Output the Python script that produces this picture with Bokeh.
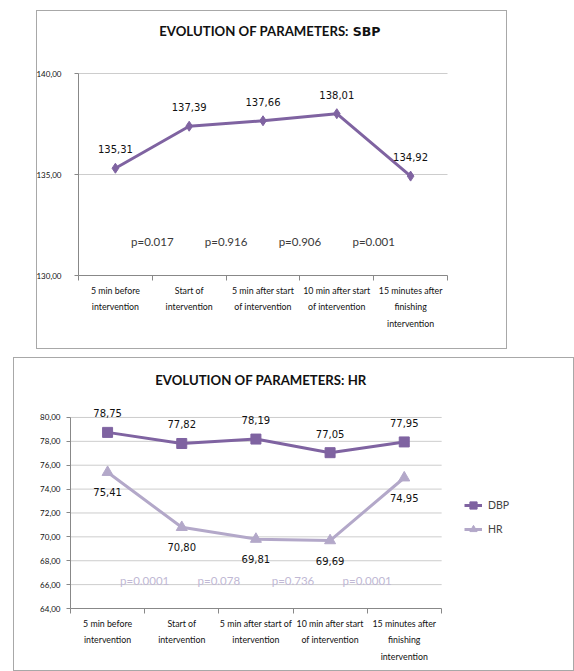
from bokeh.plotting import figure
from bokeh.models import FixedTicker, Legend, LegendItem, Range1d, CustomJSTickFormatter
from bokeh.layouts import column
from bokeh.embed import file_html
from bokeh.resources import INLINE
from bokeh.core.properties import value

# ---------------- data ----------------
categories_sbp = ["5 min before\nintervention", "Start of\nintervention",
                  "5 min after start\nof intervention", "10 min after start\nof intervention",
                  "15 minutes after\nfinishing\nintervention"]
categories_hr = ["5 min before\nintervention", "Start of\nintervention",
                 "5 min after start of\nintervention", "10 min after start\nof intervention",
                 "15 minutes after\nfinishing\nintervention"]
sbp = [135.31, 137.39, 137.66, 138.01, 134.92]
sbp_p = ["p=0.017", "p=0.916", "p=0.906", "p=0.001"]
dbp = [78.75, 77.82, 78.19, 77.05, 77.95]
hr = [75.41, 70.80, 69.81, 69.69, 74.95]
hr_p = ["p=0.0001", "p=0.078", "p=0.736", "p=0.0001"]
sbp_ticks = [130, 135, 140]
hr_ticks = [64, 66, 68, 70, 72, 74, 76, 78, 80]
title_main = "EVOLUTION OF PARAMETERS:"
title_sbp = "SBP"
title_hr = "EVOLUTION OF PARAMETERS: HR"

PURPLE = "#7f63a1"
LAVENDER = "#b3a8c9"
PTEXT = "#c0b8d4"
FONT = "Lato"
VFONT = "DejaVu Sans"
GRID = "#9a9a9a"
BOX = "#a8a8a8"


def fmt(v):
    return f"{v:.2f}".replace(".", ",")


def style_axes(p, cats, yticks, ystandoff):
    n = len(cats)
    xs = list(range(1, n + 1))
    p.xaxis.ticker = FixedTicker(ticks=xs, minor_ticks=[i + 0.5 for i in range(0, n + 1)])
    p.xaxis.major_label_overrides = {x: c for x, c in zip(xs, cats)}
    p.xaxis.bounds = (0.5, n + 0.5)
    p.xaxis.major_tick_out = 0
    p.xaxis.major_tick_in = 0
    p.xaxis.minor_tick_out = 5
    p.xaxis.minor_tick_in = 0
    p.xaxis.minor_tick_line_color = "#888888"
    p.xaxis.axis_line_color = "#888888"
    p.xaxis.major_label_text_font = FONT
    p.xaxis.major_label_text_font_size = "8.8px"
    p.xaxis.major_label_text_color = "#111111"
    p.xaxis.major_label_text_line_height = 1.5
    p.xaxis.major_label_standoff = 4
    p.yaxis.ticker = FixedTicker(ticks=yticks)
    p.yaxis.formatter = CustomJSTickFormatter(code="return tick.toFixed(2).replace('.', ',')")
    p.yaxis.bounds = (min(yticks), max(yticks))
    p.yaxis.major_tick_out = 4
    p.yaxis.major_tick_in = 0
    p.yaxis.minor_tick_out = 0
    p.yaxis.minor_tick_in = 0
    p.yaxis.major_tick_line_color = "#888888"
    p.yaxis.axis_line_color = "#888888"
    p.yaxis.major_label_text_font = FONT
    p.yaxis.major_label_text_font_size = "8px"
    p.yaxis.major_label_text_color = "#111111"
    p.yaxis.major_label_standoff = ystandoff
    p.xgrid.visible = False
    p.ygrid.visible = False
    gt = yticks[1:]
    p.segment(x0=[0.5] * len(gt), x1=[n + 0.5] * len(gt), y0=gt, y1=gt,
              line_color=GRID, line_dash="1 1", line_width=1)
    p.outline_line_color = None
    p.background_fill_color = "white"
    return xs


# ---------------- SBP chart ----------------
SHIFT = 14  # blank strip left of the chart box (room for the axis panel)
p1 = figure(width=471 + SHIFT, height=339, output_backend="svg", toolbar_location=None,
            x_range=Range1d(0.5, 5.5), y_range=Range1d(130, 143.02),
            min_border_left=42 + SHIFT, min_border_right=60, min_border_top=2, min_border_bottom=74)
xs = style_axes(p1, categories_sbp, sbp_ticks, 13)
p1.border_fill_color = None
p1.text([4.19], [142.08], text=[title_main], text_font=value(FONT), text_font_size="13.2px",
        text_font_style="bold", text_color="#111111", text_align="right",
        text_baseline="middle", x_offset=-2)
p1.text([4.19], [142.08], text=[title_sbp], text_font=value("DejaVu Sans"), text_font_size="12.5px",
        text_font_style="bold", text_color="#111111", text_align="left",
        text_baseline="middle", x_offset=2)
p1.line(xs, sbp, line_color=PURPLE, line_width=3)
p1.scatter(xs, sbp, marker="diamond", size=10, fill_color=PURPLE, line_color=PURPLE)
p1.text(xs, sbp, text=[fmt(v) for v in sbp], text_font=value(VFONT),
        text_font_size="10px", text_color="#111111", text_align="center",
        text_baseline="middle", y_offset=-19)
p1.text([i + 1.5 for i in range(len(sbp_p))], [131.7] * len(sbp_p), text=sbp_p,
        text_font=value(FONT),
        text_font_size="11.5px", text_color="#3a3a3a", text_align="center", text_baseline="middle")
g = f"linear-gradient({BOX},{BOX})"
p1.styles = {
    "background-color": "white",
    "background-image": ", ".join([g] * 4),
    "background-size": f"1px 100%, calc(100% - {SHIFT}px) 1px, calc(100% - {SHIFT}px) 1px, 1px 100%",
    "background-position": f"{SHIFT}px 0px, {SHIFT}px 0px, {SHIFT}px 100%, 100% 0px",
    "background-repeat": "no-repeat",
}
p1.margin = (10, 0, 0, 36 - SHIFT)

# ---------------- HR / DBP chart ----------------
p2 = figure(width=561, height=314, output_backend="svg", toolbar_location=None,
            x_range=Range1d(0.5, 6.5), y_range=Range1d(64, 84.77),
            min_border_left=55, min_border_right=44, min_border_top=2, min_border_bottom=64)
xs2 = style_axes(p2, categories_hr, hr_ticks, 6)
p2.border_fill_color = "white"
p2.text([3.0], [83.16], text=[title_hr], text_font=value(FONT), text_font_size="13.2px",
        text_font_style="bold", text_color="#111111", text_align="center",
        text_baseline="middle", x_offset=5)
l_dbp = p2.line(xs2, dbp, line_color=PURPLE, line_width=3)
m_dbp = p2.scatter(xs2, dbp, marker="square", size=10, fill_color=PURPLE, line_color=PURPLE)
l_hr = p2.line(xs2, hr, line_color=LAVENDER, line_width=3)
m_hr = p2.scatter(xs2, hr, marker="triangle", size=11, fill_color=LAVENDER, line_color=LAVENDER)
p2.text(xs2, dbp, text=[fmt(v) for v in dbp], text_font=value(VFONT), text_font_size="10px",
        text_color="#111111", text_align="center", text_baseline="middle", y_offset=-19)
p2.text(xs2, hr, text=[fmt(v) for v in hr], text_font=value(VFONT), text_font_size="10px",
        text_color="#111111", text_align="center", text_baseline="middle", y_offset=20)
p2.text([i + 1.5 for i in range(len(hr_p))], [66.35] * len(hr_p), text=hr_p,
        text_font=value(FONT), text_font_size="11.5px", text_color=PTEXT,
        text_align="center", text_baseline="middle")
legend = Legend(items=[LegendItem(label="DBP", renderers=[l_dbp, m_dbp]),
                       LegendItem(label="HR", renderers=[l_hr, m_hr])],
                location=(394, 69), orientation="vertical", padding=0, margin=0,
                spacing=4, glyph_width=18, glyph_height=20, label_standoff=6,
                label_text_font=FONT, label_text_font_size="10.5px",
                border_line_color=None, background_fill_alpha=0)
p2.add_layout(legend)
p2.styles = {"border": f"1px solid {BOX}"}
p2.margin = (8, 0, 0, 13)

layout = column(p1, p2, spacing=0)
open("out.html", "w").write(file_html(layout, INLINE))
